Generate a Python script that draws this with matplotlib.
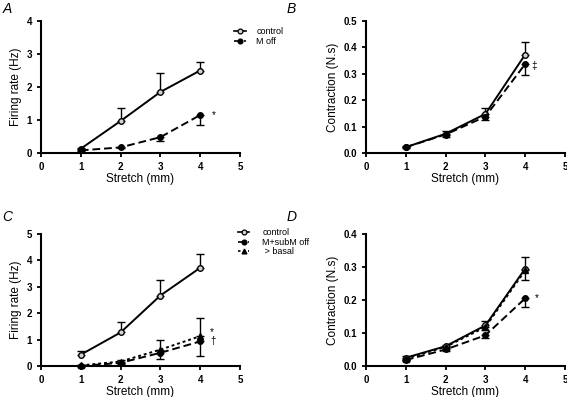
import numpy as np
import matplotlib
matplotlib.use('Agg')
import matplotlib.pyplot as plt
from matplotlib.lines import Line2D

plt.rcParams['font.family'] = ['Liberation Sans', 'DejaVu Sans']

stretch = [1, 2, 3, 4]

# Panel A - firing rate
a_ctrl = [0.13, 0.97, 1.85, 2.50]
a_ctrl_err = [0.03, 0.38, 0.58, 0.27]
a_moff = [0.08, 0.17, 0.48, 1.15]
a_moff_err = [0.02, 0.03, 0.13, 0.30]

# Panel B - contraction
b_ctrl = [0.022, 0.073, 0.148, 0.373]
b_ctrl_err = [0.003, 0.010, 0.022, 0.048]
b_moff = [0.022, 0.070, 0.138, 0.337]
b_moff_err = [0.003, 0.008, 0.012, 0.040]

# Panel C - firing rate
c_ctrl = [0.43, 1.27, 2.67, 3.72]
c_ctrl_err = [0.12, 0.38, 0.58, 0.53]
c_sub = [0.00, 0.12, 0.50, 0.93]
c_sub_err = [0.02, 0.05, 0.22, 0.55]
c_bas = [0.02, 0.17, 0.62, 1.13]
c_bas_err = [0.02, 0.05, 0.38, 0.67]

# Panel D - contraction
d_ctrl = [0.025, 0.060, 0.123, 0.295]
d_ctrl_err = [0.004, 0.005, 0.012, 0.035]
d_sub = [0.018, 0.050, 0.093, 0.205]
d_sub_err = [0.003, 0.004, 0.008, 0.025]
d_bas = [0.022, 0.058, 0.118, 0.290]
d_bas_err = [0.003, 0.004, 0.010, 0.028]

DASH = (0, (4, 2))
DOT = (0, (1.5, 1.5))

fig = plt.figure(figsize=(5.67, 3.97), dpi=100)
axA = fig.add_axes([0.0723, 0.6146, 0.351, 0.3325])
axB = fig.add_axes([0.6455, 0.6146, 0.351, 0.3325])
axC = fig.add_axes([0.0723, 0.0781, 0.351, 0.3325])
axD = fig.add_axes([0.6455, 0.0781, 0.351, 0.3325])


def draw(ax, y, err, ls, marker, mfc, up):
    lo = [0] * len(err) if up else err
    hi = err if up else [0] * len(err)
    ax.errorbar(stretch, y, yerr=[lo, hi], color='black', ls=ls, lw=1.4,
                marker=marker, ms=4, mfc=mfc, mec='black', mew=1.0,
                capsize=3, elinewidth=1.0, capthick=1.0, clip_on=False)


def style(ax, ymax, yticks, fmt, ylabel):
    ax.set_xlim(0, 5)
    ax.set_ylim(0, ymax)
    ax.set_xticks([0, 1, 2, 3, 4, 5])
    ax.set_yticks(yticks)
    ax.set_yticklabels([fmt.format(t) for t in yticks])
    for s in ['top', 'right']:
        ax.spines[s].set_visible(False)
    for s in ['left', 'bottom']:
        ax.spines[s].set_linewidth(1.5)
    ax.tick_params(width=1.3, length=3, labelsize=7)
    for lab in ax.get_xticklabels() + ax.get_yticklabels():
        lab.set_fontweight('bold')
    ax.set_xlabel('Stretch (mm)', fontsize=8.5, labelpad=1)
    ax.set_ylabel(ylabel, fontsize=8.5, labelpad=3)


def handle(ls, marker, mfc):
    return Line2D([], [], color='black', ls=ls, lw=1.2, marker=marker, ms=3.5,
                  mfc=mfc, mec='black', mew=0.9)


# A
draw(axA, a_ctrl, a_ctrl_err, '-', 'o', 'lightgray', True)
draw(axA, a_moff, a_moff_err, DASH, 'o', 'black', False)
style(axA, 4, [0, 1, 2, 3, 4], '{:.0f}', 'Firing rate (Hz)')
axA.text(4.3, 1.15, '*', fontsize=7, va='center')
fig.legend([handle('-', 'o', 'lightgray'), handle(DASH, 'o', 'black')],
           ['control', 'M off'], loc='upper left',
           bbox_to_anchor=(0.398, 0.952), frameon=False, fontsize=6.5,
           handlelength=1.3, handletextpad=1.2, labelspacing=0.1)

# B
draw(axB, b_ctrl, b_ctrl_err, '-', 'o', 'lightgray', True)
draw(axB, b_moff, b_moff_err, DASH, 'o', 'black', False)
style(axB, 0.5, [0, 0.1, 0.2, 0.3, 0.4, 0.5], '{:.1f}', 'Contraction (N.s)')
axB.text(4.15, 0.33, '‡', fontsize=7, va='center')

# C
draw(axC, c_ctrl, c_ctrl_err, '-', 'o', 'lightgray', True)
draw(axC, c_sub, c_sub_err, DASH, 'o', 'black', False)
draw(axC, c_bas, c_bas_err, DOT, '^', 'black', True)
style(axC, 5, [0, 1, 2, 3, 4, 5], '{:.0f}', 'Firing rate (Hz)')
axC.text(4.25, 1.3, '*', fontsize=7, va='center')
axC.text(4.25, 0.93, '†', fontsize=7, va='center')
fig.legend([handle('-', 'o', 'lightgray'), handle(DASH, 'o', 'black'),
            handle(DOT, '^', 'black')],
           ['control', 'M+subM off', ' > basal'], loc='upper left',
           bbox_to_anchor=(0.405, 0.445), frameon=False, fontsize=6.5,
           handlelength=1.3, handletextpad=1.4, labelspacing=0.05)

# D
draw(axD, d_ctrl, d_ctrl_err, '-', 'o', 'lightgray', True)
draw(axD, d_sub, d_sub_err, DASH, 'o', 'black', False)
draw(axD, d_bas, d_bas_err, DOT, '^', 'black', False)
style(axD, 0.4, [0, 0.1, 0.2, 0.3, 0.4], '{:.1f}', 'Contraction (N.s)')
axD.text(4.25, 0.205, '*', fontsize=7, va='center')

for lab, x, y in [('A', 0.004, 0.995), ('B', 0.505, 0.995),
                  ('C', 0.004, 0.47), ('D', 0.505, 0.47)]:
    fig.text(x, y, lab, fontsize=10, style='italic', va='top')

fig.savefig('out.png', dpi=100)
